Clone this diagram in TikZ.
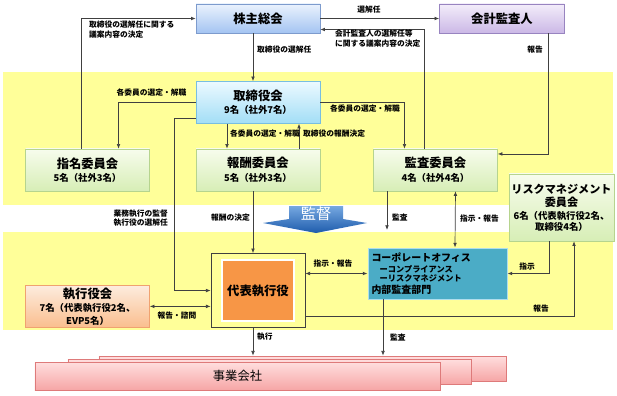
\documentclass[tikz,border=0pt]{standalone}
\usepackage{fontspec}
\setmainfont{Noto Sans CJK JP}
\usetikzlibrary{arrows.meta,positioning,calc}

\newcommand{\subsz}{\fontsize{8}{9.5}\selectfont}
\newcommand{\corpsz}{\fontsize{7}{10}\selectfont}
\newcommand{\lblsz}{\fontsize{6.6}{8.2}\selectfont}

\begin{document}
\begin{tikzpicture}[
    x=0.03cm, y=-0.03cm,
    font=\bfseries\fontsize{10.5}{12.5}\selectfont,
    >=Latex,
    node distance=7.5mm and 13.8mm,
    box/.style={draw, align=center, inner sep=2pt, minimum width=3.72cm, minimum height=1.26cm},
    combox/.style={box, draw=comb, top color=comt, bottom color=comd},
    grp/.style={draw=grpb, line width=0.6pt, top color=grpt, bottom color=grpd, inner sep=0pt},
    flow/.style={draw=linec, line width=0.6pt, -{Latex[length=1.4mm,width=1.1mm]}},
    both/.style={draw=linec, line width=0.6pt, {Latex[length=1.4mm,width=1.1mm]}-{Latex[length=1.4mm,width=1.1mm]}},
    lbl/.style={font=\bfseries\lblsz, inner sep=0pt, align=left}
  ]
    \definecolor{bgyel}{RGB}{255,255,153}
    \definecolor{linec}{RGB}{64,64,64}
    \definecolor{gmt}{RGB}{234,242,253}
    \definecolor{gmd}{RGB}{164,196,242}
    \definecolor{gmb}{RGB}{125,155,205}
    \definecolor{audt}{RGB}{243,237,250}
    \definecolor{audd}{RGB}{203,184,230}
    \definecolor{audb}{RGB}{152,132,192}
    \definecolor{bodt}{RGB}{236,249,255}
    \definecolor{bodd}{RGB}{162,222,246}
    \definecolor{bodb}{RGB}{120,190,225}
    \definecolor{comt}{RGB}{247,252,237}
    \definecolor{comd}{RGB}{215,238,182}
    \definecolor{comb}{RGB}{182,212,142}
    \definecolor{ceoc}{RGB}{247,150,70}
    \definecolor{corpc}{RGB}{75,172,198}
    \definecolor{corpb}{RGB}{175,222,236}
    \definecolor{exet}{RGB}{253,236,222}
    \definecolor{exed}{RGB}{250,190,142}
    \definecolor{exeb}{RGB}{240,162,112}
    \definecolor{grpt}{RGB}{255,222,222}
    \definecolor{grpd}{RGB}{246,166,166}
    \definecolor{grpb}{RGB}{222,122,122}
    \definecolor{kant}{RGB}{118,168,225}
    \definecolor{kanb}{RGB}{30,92,172}

    \fill[white] (0,0) rectangle (617,396);
    \useasboundingbox (0,0) rectangle (617,396);
    \fill[bgyel] (3,72) rectangle (613,205);
    \fill[bgyel] (3,232) rectangle (613,330);

    % supervision banner
    \shade[top color=kant, bottom color=kanb] (289,206) -- (343,206) -- (343,219) -- (367,223) -- (316,233) -- (263,223) -- (289,219) -- cycle;
    \node[text=white, font=\mdseries\fontsize{13}{14}\selectfont] (kantoku) at (316,214) {監督};

    \node[box, draw=gmb, top color=gmt, bottom color=gmd, minimum height=0.87cm] (gm) at (258,18.5) {株主総会};
    \node[box, draw=audb, top color=audt, bottom color=audd, minimum width=3.75cm, minimum height=0.87cm, right=3.57cm of gm] (aud) {会計監査人};
    \node[box, draw=bodb, top color=bodt, bottom color=bodd, below=1.44cm of gm] (bod) {取締役会\\[-1pt]{\subsz 9名（社外7名）}};
    \node[combox, below=0.75cm of bod] (rem) {報酬委員会\\[-1pt]{\subsz 5名（社外3名）}};
    \node[combox, left=1.38cm of rem] (nom) {指名委員会\\[-1pt]{\subsz 5名（社外3名）}};
    \node[combox, right=1.59cm of rem] (adt) {監査委員会\\[-1pt]{\subsz 4名（社外4名）}};
    \node[combox, minimum width=3.15cm, minimum height=2.01cm, font=\bfseries\fontsize{9.5}{11.5}\selectfont] (risk) at (561.5,207.5) {リスクマネジメント\\委員会\\[-1pt]{\subsz 6名（代表執行役2名、}\\[-2pt]{\subsz 取締役4名）}};

    \node[draw=linec, line width=0.6pt, fill=bgyel, minimum width=2.82cm, minimum height=2.22cm, below=1.86cm of rem] (ceo) {};
    \node[draw=white, line width=1pt, fill=ceoc, minimum width=2.16cm, minimum height=1.83cm] (ceoin) at (ceo.center) {代表執行役};
    \node[draw=corpb, line width=0.8pt, fill=corpc, text width=3.96cm, minimum height=1.53cm, inner sep=3pt, align=left, font=\bfseries\fontsize{8.5}{11}\selectfont] (corp) at (437.5,273.5) {コーポレートオフィス\\[-2pt]{\corpsz\quad ーコンプライアンス}\\[-3pt]{\corpsz\quad ーリスクマネジメント}\\[-1pt]内部監査部門};
    \node[box, draw=exeb, top color=exet, bottom color=exed, minimum height=1.2cm, below=2.82cm of nom] (exe) {執行役会\\[-1pt]{\subsz 7名（代表執行役2名、}\\[-2pt]{\subsz EVP5名）}};

    \node[grp, minimum width=12.21cm, minimum height=0.75cm] (grpc) at (302.5,368.5) {};
    \node[grp, minimum width=12.09cm, minimum height=0.75cm] (grpb) at (269.5,371.5) {};
    \node[grp, minimum width=12.15cm, minimum height=0.84cm, font=\mdseries\fontsize{10.5}{12}\selectfont] (grpa) at (237.5,376) {事業会社};

    \draw[flow] ($(nom.north)+(-6,0)$) |- (gm.west);
    \draw[flow] ($(gm.south)+(-5,0)$) -- ($(bod.north)+(-5,0)$);
    \draw[flow] (gm.east) -- (aud.west);
    \draw[flow] ($(adt.north)+(-11,0)$) |- ($(gm.east)+(0,11)$);
    \draw[flow] ($(aud.south)+(46,0)$) |- ($(adt.east)+(0,-16)$);
    \draw[flow] (bod.west) -| ($(nom.north)+(31,0)$);
    \draw[flow] ($(bod.south)+(-31,0)$) -- ($(rem.north)+(-31,0)$);
    \draw[flow] ($(rem.north)+(41,0)$) -- ($(bod.south)+(41,0)$);
    \draw[flow] (bod.east) -| ($(adt.north)+(-31,0)$);
    \draw[flow] ($(bod.west)+(0,16)$) -- ++(-21,0) |- (ceo.west);
    \draw[flow] ($(rem.south)+(-5,0)$) -- ($(ceo.north)+(-5,0)$);
    \draw[both] (exe.east) -- (exe.east -| ceo.west);
    \coordinate (auditend) at (387,230);
    \draw[flow] (adt.south -| auditend) -- (auditend);
    \draw[both] ($(adt.south)+(20,0)$) -- ($(corp.north)+(17.5,0)$);
    \draw[both] (ceo.east |- corp.west) -- (corp.west);
    \draw[flow] ($(risk.south)+(-12.5,0)$) |- (corp.east);
    \draw[flow] ($(ceo.east)+(0,26)$) -| ($(risk.south)+(12.5,0)$);
    \draw[flow] ($(ceo.south)+(-5,0)$) -- ($(ceo.south |- grpc.north)+(-5,0)$);
    \draw[flow] ($(corp.south)+(-54.5,0)$) -- ($(corp.south |- grpc.north)+(-54.5,0)$);

    \node[lbl, anchor=north west] (l1) at (89,21) {取締役の選解任に関する\\議案内容の決定};
    \node[lbl, anchor=west] (l2) at (257,50) {取締役の選解任};
    \node[lbl] (l3) at (369,10) {選解任};
    \node[lbl, anchor=north west] (l4) at (335,29.5) {会計監査人の選解任等\\に関する議案内容の決定};
    \node[lbl] (l5) at (535,50) {報告};
    \node[lbl] (l6) at (151.5,93) {各委員の選定・解職};
    \node[lbl, anchor=west] (l7) at (230,134) {各委員の選定・解職};
    \node[lbl, anchor=west] (l8) at (303,134) {取締役の報酬決定};
    \node[lbl, anchor=west] (l9) at (330,109) {各委員の選定・解職};
    \node[lbl, anchor=east, align=right] (l10) at (168,218) {業務執行の監督\\執行役の選解任};
    \node[lbl, anchor=east] (l11) at (250,218) {報酬の決定};
    \node[lbl] (l12) at (177,316) {報告・諮問};
    \node[lbl, anchor=west] (l13) at (392,218) {監査};
    \node[lbl, anchor=west] (l14) at (460,219) {指示・報告};
    \node[lbl] (l15) at (333,264) {指示・報告};
    \node[lbl] (l16) at (527,267) {指示};
    \node[lbl] (l17) at (541,309) {報告};
    \node[lbl, anchor=west] (l18) at (257,337) {執行};
    \node[lbl, anchor=west] (l19) at (390,338) {監査};
  \end{tikzpicture}
\end{document}
